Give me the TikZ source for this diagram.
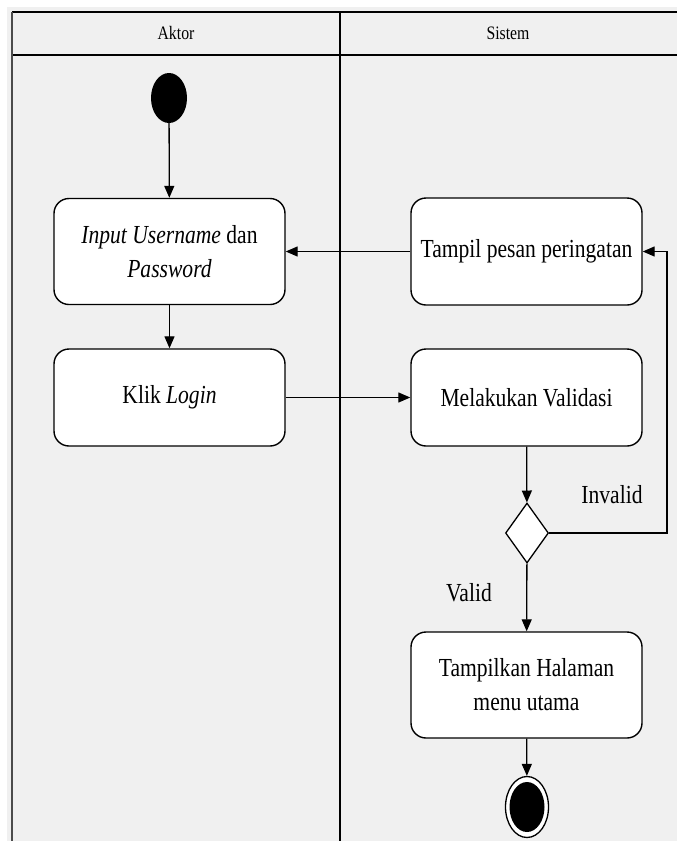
\documentclass[tikz,border=0pt]{standalone}
\usepackage{fontspec}
\usetikzlibrary{arrows.meta,shapes.geometric}
\setmainfont{Liberation Serif}
\newfontfamily\lanefont[FakeStretch=0.83]{Liberation Serif}
\definecolor{lanebg}{HTML}{F0F0F0}
\tikzset{
  actbox/.style={draw=black, line width=1.4pt, fill=white, rounded corners=15pt,
    minimum width=231pt, align=center, inner sep=0pt,
    font=\lanefont\fontsize{26}{34}\selectfont},
  flow/.style={line width=1.3pt, -{Triangle[length=12pt,width=10pt]}},
  lane/.style={line width=1.6pt, black},
  lanetitle/.style={font=\lanefont\fontsize{19}{22}\selectfont},
  guard/.style={font=\lanefont\fontsize{26}{30}\selectfont},
}
\begin{document}
\begin{tikzpicture}[x=1pt, y=-1pt]
  \useasboundingbox (0,0) rectangle (677,841);
  % swimlane background and frame
  \fill[lanebg] (7,7) rectangle (677,841);
  \draw[lane] (12,12) -- (677,12);
  \draw[lane] (12,55) -- (677,55);
  \draw[line width=1.6pt, black!70] (12,12) -- (12,841);
  \draw[lane] (340,12) -- (340,841);
  \node[lanetitle] (hdrA) at (176,33) {Aktor};
  \node[lanetitle] (hdrS) at (508,33) {Sistem};

  % initial node
  \node[ellipse, fill=black, minimum width=36pt, minimum height=50pt, inner sep=0pt] (start) at (169,98) {};

  % actions
  \node[actbox, minimum height=106pt] (input) at (169.5,251.5)
    {\textit{Input Username} dan\\ \textit{Password}};
  \node[actbox, minimum height=97pt] (klik) at (169.5,397.5) {Klik \textit{Login}};
  \node[actbox, minimum height=107pt] (warn) at (526.5,251.5) {Tampil pesan peringatan};
  \node[actbox, minimum height=97pt] (check) at (526.5,397.5) {Melakukan Validasi};
  \node[diamond, draw=black, line width=1.3pt, fill=white, minimum width=43pt, minimum height=60pt, inner sep=0pt] (dec) at (527,533) {};
  \node[actbox, minimum height=106pt] (menu) at (526.5,685) {Tampilkan Halaman\\ menu utama};

  % final node
  \node[ellipse, draw=black, line width=1.3pt, fill=white, minimum width=43pt, minimum height=61pt, inner sep=0pt] (stop) at (527,807) {};
  \fill[black] (stop.center) ellipse [x radius=17.5pt, y radius=25pt];

  % guards
  \node[guard] (lblInvalid) at (612,495) {Invalid};
  \node[guard] (lblValid) at (469,593) {Valid};

  % control flow
  \coordinate (loop) at (667,251.5);
  \draw[flow] (start) -- (input);
  \draw[flow] (input) -- (klik);
  \draw[flow] (klik) -- (check);
  \draw[flow] (warn) -- (input);
  \draw[flow] (check) -- (dec);
  \draw[flow] (dec.east) -| (loop) -- (warn.east);
  \draw[flow] (dec) -- (menu);
  \draw[flow] (menu) -- (stop);
\end{tikzpicture}
\end{document}
